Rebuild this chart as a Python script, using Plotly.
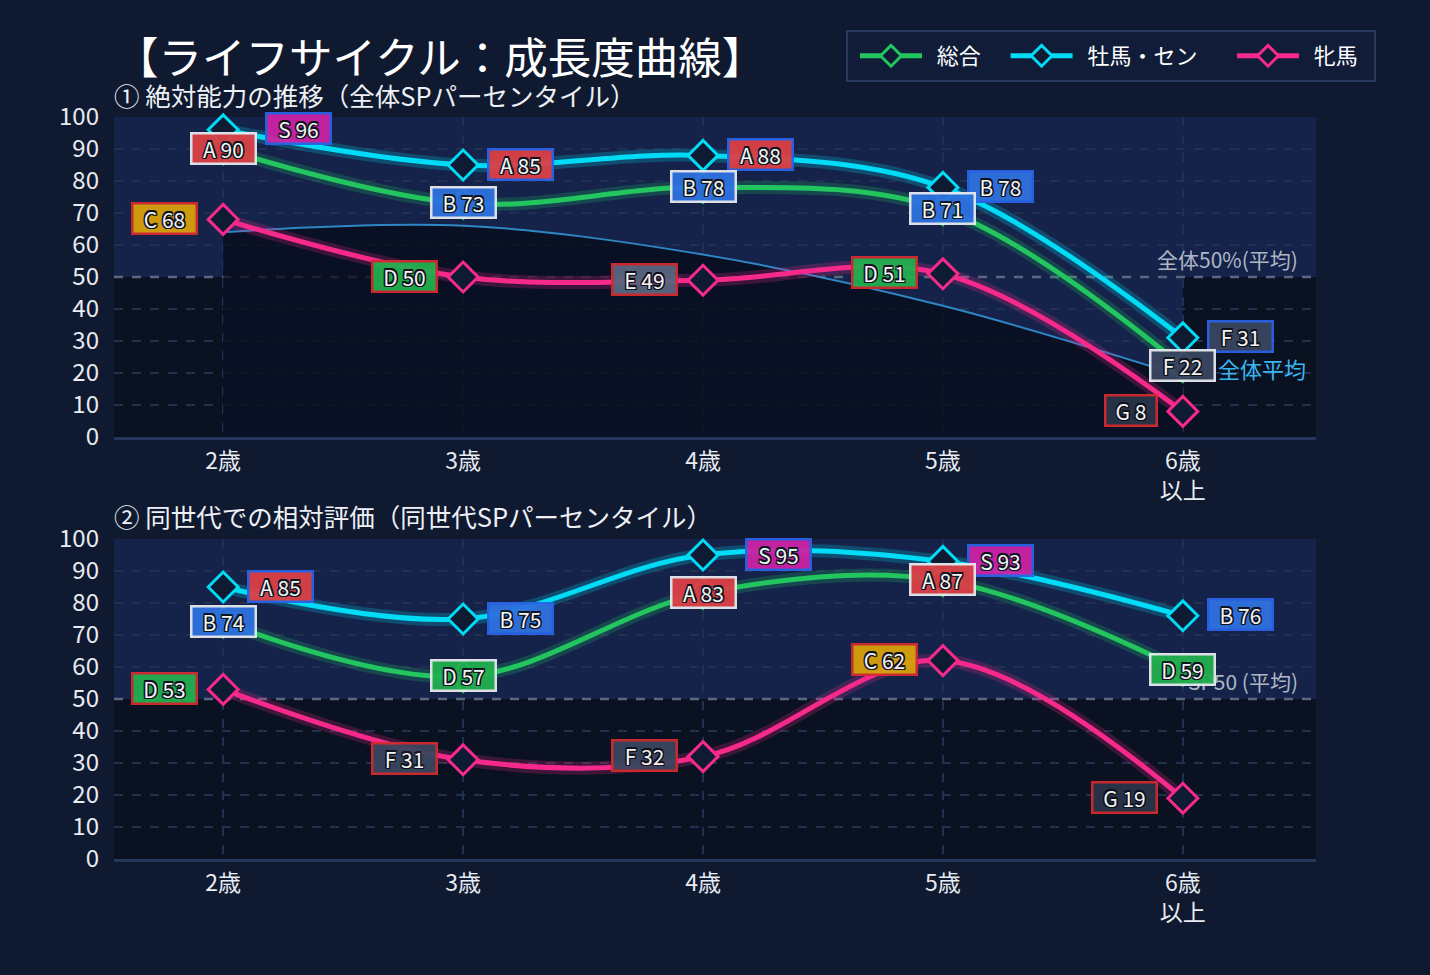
import plotly.graph_objects as go

# ---------------- data ----------------
ages = ["2歳", "3歳", "4歳", "5歳", "6歳<br>以上"]
series_names = ["総合", "牡馬・セン", "牝馬"]

abs_total = [90, 73, 78, 71, 22]
abs_colt = [96, 85, 88, 78, 31]
abs_filly = [68, 50, 49, 51, 8]
abs_avg = [64, 66, 57, 41, 19]

rel_total = [74, 57, 83, 87, 59]
rel_colt = [85, 75, 95, 93, 76]
rel_filly = [53, 31, 32, 62, 19]

y_ticks = [0, 10, 20, 30, 40, 50, 60, 70, 80, 90, 100]

title_text = "【ライフサイクル：成長度曲線】"
sub1_text = "① 絶対能力の推移（全体SPパーセンタイル）"
sub2_text = "② 同世代での相対評価（同世代SPパーセンタイル）"
avg50_text_top = "全体50%(平均)"
avg50_text_bot = "SP50 (平均)"
avg_line_text = "全体平均"

# ---------------- style ----------------
W, H = 1430, 975
FONT = "Noto Sans CJK JP"
PAPER = "#0f1a30"
LIGHT = "#15234a"
DARK = "#0a1121"
GRID = "#213050"
NB = "\u00a0"
line_colors = {"総合": "#22c55e", "牡馬・セン": "#00dcf5", "牝馬": "#f72a8c"}
border_colors = {"総合": "#e8eaf0", "牡馬・セン": "#2a63e6", "牝馬": "#d42a2e"}
grade_colors = {"S": "#cc22a4", "A": "#dd4046", "B": "#2e72e0", "C": "#d8a20c",
                "D": "#22b04f", "E": "#5a6680", "F": "#3a4660", "G": "#2a3448"}
legend_pad = {"総合": 4, "牡馬・セン": 6, "牝馬": 0}
OUTLINE = ("-1.2px -1.2px 0 #10131c, 1.2px -1.2px 0 #10131c, -1.2px 1.2px 0 #10131c, "
           "1.2px 1.2px 0 #10131c, 0 1.4px 0 #10131c, 0 -1.4px 0 #10131c, "
           "1.4px 0 0 #10131c, -1.4px 0 0 #10131c")


def px(x):
    return x / W


def py(y):
    return 1 - y / H


def grade(v):
    if v >= 91:
        return "S"
    if v >= 80:
        return "A"
    if v >= 70:
        return "B"
    if v >= 60:
        return "C"
    if v >= 50:
        return "D"
    if v >= 40:
        return "E"
    if v >= 20:
        return "F"
    return "G"


xs = list(range(len(ages)))
fig = go.Figure()

panels = [
    ("x", "y", [abs_total, abs_colt, abs_filly], True),
    ("x2", "y2", [rel_total, rel_colt, rel_filly], False),
]

# average line with dark fill below (top panel)
fig.add_trace(go.Scatter(
    x=xs, y=abs_avg, xaxis="x", yaxis="y", mode="lines",
    line=dict(color="#2f86c4", width=2, shape="spline", smoothing=1.0),
    fill="tozeroy", fillcolor="rgba(5,10,22,0.72)",
    showlegend=False, hoverinfo="skip",
))

annotations = []
for xa, ya, vals_list, show_leg in panels:
    # glow
    for name, vals in zip(series_names, vals_list):
        fig.add_trace(go.Scatter(
            x=xs, y=vals, xaxis=xa, yaxis=ya, mode="lines",
            line=dict(color=line_colors[name], width=13, shape="spline", smoothing=1.0),
            opacity=0.22, showlegend=False, hoverinfo="skip",
        ))
    for name, vals in zip(series_names, vals_list):
        fig.add_trace(go.Scatter(
            x=xs, y=vals, xaxis=xa, yaxis=ya, mode="lines+markers",
            name=NB * 2 + name + NB * legend_pad[name],
            line=dict(color=line_colors[name], width=5, shape="spline", smoothing=1.0),
            marker=dict(symbol="diamond", size=23, color="#0f1a33",
                        line=dict(color=line_colors[name], width=3)),
            cliponaxis=False, showlegend=show_leg, legendgroup=name,
        ))
    # labels: colt first, filly, then total on top
    order = [1, 2, 0]
    for i in order:
        name = series_names[i]
        vals = vals_list[i]
        for xi, v in zip(xs, vals):
            g = grade(v)
            txt = f"{g} {v}"
            w = 13 * len(txt) + 8
            if i == 0:
                xanchor, xshift = "center", 0
            elif i == 1:
                xanchor, xshift = "left", (42 if v >= 95 else 24)
            else:
                xanchor, xshift = "right", -25
            annotations.append(dict(
                x=xi, y=v, xref=xa, yref=ya, text=txt, showarrow=False,
                xanchor=xanchor, yanchor="middle", xshift=xshift, yshift=1,
                font=dict(family=FONT, size=21, color="#ffffff", shadow=OUTLINE),
                bgcolor=grade_colors[g], bordercolor=border_colors[name],
                borderwidth=2.5, borderpad=1, width=w, height=26, opacity=0.95,
                align="center", valign="middle",
            ))

# titles
annotations.append(dict(text=title_text, x=px(113), y=py(55), xref="paper", yref="paper",
                        xanchor="left", yanchor="middle", showarrow=False,
                        font=dict(family=FONT, size=43.5, color="#ffffff")))
annotations.append(dict(text=sub1_text, x=px(112), y=py(94), xref="paper", yref="paper",
                        xanchor="left", yanchor="middle", showarrow=False,
                        font=dict(family=FONT, size=25.5, color="#eef0f5")))
annotations.append(dict(text=sub2_text, x=px(112), y=py(515), xref="paper", yref="paper",
                        xanchor="left", yanchor="middle", showarrow=False,
                        font=dict(family=FONT, size=25.5, color="#eef0f5")))
# 50% labels
annotations.append(dict(text=avg50_text_top, x=4.49, y=50, xref="x", yref="y",
                        xanchor="right", yanchor="bottom", yshift=1, showarrow=False,
                        font=dict(family=FONT, size=21, color="#aeb6c6")))
annotations.append(dict(text=avg50_text_bot, x=4.49, y=50, xref="x2", yref="y2",
                        xanchor="right", yanchor="bottom", yshift=1, showarrow=False,
                        font=dict(family=FONT, size=21, color="#aeb6c6")))
# put the bottom-panel 50% text under the labels
annotations.insert(0, annotations.pop())
annotations.append(dict(text=avg_line_text, x=xs[-1], y=abs_avg[-1], xref="x", yref="y",
                        xanchor="left", yanchor="middle", xshift=33, yshift=8, showarrow=False,
                        font=dict(family=FONT, size=22, color="#38b6ef")))

shapes = []
x_lo, x_hi = -0.455, 4.555
# legend box
shapes.append(dict(type="rect", xref="paper", yref="paper", x0=px(847), x1=px(1375),
                   y0=py(81), y1=py(31), fillcolor="#111c38",
                   line=dict(color="#2a3a5e", width=2), layer="below"))
# dark regions below 50
shapes.append(dict(type="rect", xref="x", yref="y", x0=x_lo, x1=0, y0=0, y1=50,
                   fillcolor=DARK, line_width=0, layer="below"))
shapes.append(dict(type="rect", xref="x", yref="y", x0=4, x1=x_hi, y0=0, y1=50,
                   fillcolor=DARK, line_width=0, layer="below"))
shapes.append(dict(type="rect", xref="x2", yref="y2", x0=x_lo, x1=x_hi, y0=0, y1=50,
                   fillcolor=DARK, line_width=0, layer="below"))
for xr, yr in [("x", "y"), ("x2", "y2")]:
    shapes.append(dict(type="line", xref=xr, yref=yr, x0=x_lo, x1=x_hi, y0=50, y1=50,
                       line=dict(color="#5b6781", width=2.5, dash="dash"), layer="between"))

axis_common_x = dict(
    range=[x_lo, x_hi], tickmode="array", tickvals=xs, ticktext=ages,
    showgrid=True, gridcolor=GRID, gridwidth=2, griddash="dash",
    zeroline=False, showline=True, linecolor="#24365c", linewidth=3,
    tickfont=dict(family=FONT, size=23, color="#e8ebf2"), ticks="",
    ticklabelstandoff=1, automargin=False, fixedrange=True,
)
axis_common_y = dict(
    range=[0, 100], tickmode="array", tickvals=y_ticks,
    showgrid=True, gridcolor=GRID, gridwidth=1.5, griddash="dash",
    zeroline=False, showline=False,
    tickfont=dict(family=FONT, size=24, color="#e8ebf2"), ticks="",
    ticklabelstandoff=14, automargin=False, fixedrange=True,
)

fig.update_layout(
    width=W, height=H,
    margin=dict(l=0, r=0, t=0, b=0),
    paper_bgcolor=PAPER, plot_bgcolor=LIGHT,
    font=dict(family=FONT, color="#ffffff"),
    xaxis=dict(domain=[px(114), px(1316)], anchor="y", **axis_common_x),
    yaxis=dict(domain=[py(437), py(117)], anchor="x", **axis_common_y),
    xaxis2=dict(domain=[px(114), px(1316)], anchor="y2", **axis_common_x),
    yaxis2=dict(domain=[py(859), py(539)], anchor="x2", **axis_common_y),
    legend=dict(orientation="h", x=px(855), xanchor="left", y=py(56), yanchor="middle",
                bgcolor="rgba(0,0,0,0)", borderwidth=0,
                font=dict(family=FONT, size=22, color="#ffffff"),
                itemwidth=62, traceorder="normal"),
    annotations=annotations,
    shapes=shapes,
    showlegend=True,
)

fig.write_html("out.html")
